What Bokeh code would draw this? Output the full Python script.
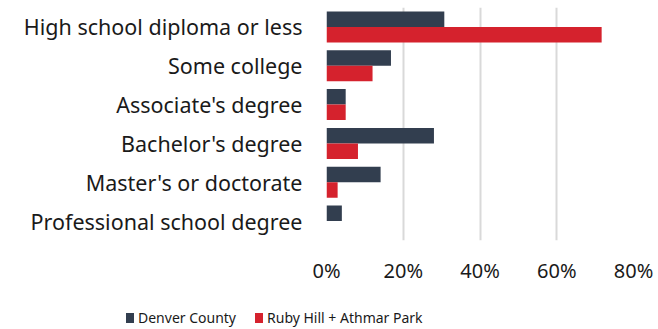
from bokeh.plotting import figure
from bokeh.layouts import column
from bokeh.models import ColumnDataSource, FactorRange, Range1d, NumeralTickFormatter, FixedTicker, Div
from bokeh.transform import dodge
from bokeh.embed import file_html
from bokeh.resources import INLINE

categories = ["High school diploma or less", "Some college", "Associate's degree",
              "Bachelor's degree", "Master's or doctorate", "Professional school degree"]
denver = [0.307, 0.168, 0.050, 0.280, 0.141, 0.040]
ruby = [0.717, 0.120, 0.050, 0.082, 0.029, 0.0]
series_names = ["Denver County", "Ruby Hill + Athmar Park"]
ticks = [0, 0.2, 0.4, 0.6, 0.8]

NAVY = "#323e4f"
RED = "#d5222d"
FONT = "Noto Sans"

src = ColumnDataSource(dict(cat=categories, denver=denver, ruby=ruby))

p = figure(width=658, height=295, output_backend="svg", toolbar_location=None,
           y_range=FactorRange(factors=list(reversed(categories)), range_padding=0),
           x_range=Range1d(0, 0.8),
           min_border_left=326, min_border_right=25, min_border_top=7, min_border_bottom=55)
p.outline_line_color = None

r1 = p.hbar(y=dodge("cat", 0.2, range=p.y_range), right="denver", height=0.4, left=0,
            source=src, fill_color=NAVY, line_color=None)
r2 = p.hbar(y=dodge("cat", -0.2, range=p.y_range), right="ruby", height=0.4, left=0,
            source=src, fill_color=RED, line_color=None)

p.xaxis.ticker = FixedTicker(ticks=ticks)
p.xaxis.formatter = NumeralTickFormatter(format="0%")
p.xaxis.axis_line_color = None
p.xaxis.major_tick_line_color = None
p.xaxis.minor_tick_line_color = None
p.xaxis.major_tick_out = 0
p.xaxis.major_tick_in = 0
p.xaxis.major_label_standoff = 16
p.xaxis.major_label_text_font = FONT
p.xaxis.major_label_text_font_size = "20px"
p.xaxis.major_label_text_color = "#1a1a1a"

p.yaxis.axis_line_color = None
p.yaxis.major_tick_line_color = None
p.yaxis.minor_tick_line_color = None
p.yaxis.major_tick_out = 0
p.yaxis.major_tick_in = 0
p.yaxis.major_label_standoff = 24
p.yaxis.major_label_text_font = FONT
p.yaxis.major_label_text_font_size = "21.5px"
p.yaxis.major_label_text_color = "#1a1a1a"

p.ygrid.grid_line_color = None
p.xgrid.grid_line_color = "#d9d9d9"
p.xgrid.grid_line_width = 2

# legend strip below the chart (real HTML text)
def swatch(color, ml):
    return (f'<span style="display:inline-block;width:8px;height:10px;background:{color};'
            f'margin-left:{ml}px;margin-right:4px;vertical-align:middle"></span>')

html = (f'<div style="font-family:\'{FONT}\';font-size:14px;color:#1a1a1a;padding-left:126px;'
        f'padding-top:14px;line-height:16px;white-space:nowrap">'
        f'{swatch(NAVY, 0)}<span style="vertical-align:middle">{series_names[0]}</span>'
        f'{swatch(RED, 19)}<span style="vertical-align:middle">{series_names[1]}</span></div>')
lg = Div(text=html, width=658, height=34, margin=(0, 0, 0, 0))

layout = column(p, lg, spacing=0)
open("out.html", "w").write(file_html(layout, INLINE))
